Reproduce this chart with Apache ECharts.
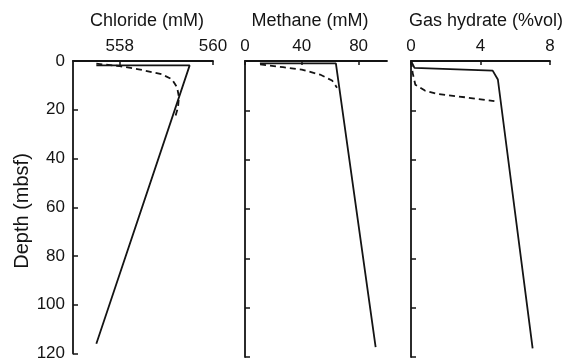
<!DOCTYPE html>
<html>
<head>
<meta charset="utf-8">
<script src="https://cdn.jsdelivr.net/npm/echarts@6/dist/echarts.min.js"></script>
<style>
html,body{margin:0;padding:0;background:#fff;}
#c{width:569px;height:362px;}
</style>
</head>
<body>
<div id="c"></div>
<script>
// ---- data (depth in mbsf) ----
const depthTicks = [0, 20, 40, 60, 80, 100, 120];
const chlorideTicks = [558, 560];
const methaneTicks = [0, 40, 80];
const hydrateTicks = [0, 4, 8];

const chlorideSolid = [[557.5, 1.8], [559.5, 1.8], [557.5, 116]];
const chlorideDashed = [[557.5, 1.1], [558.0, 2.1], [558.44, 3.5], [558.91, 5.5], [559.12, 7.5], [559.23, 10.8], [559.27, 14.8], [559.25, 19], [559.19, 23]];
const methaneSolid = [[10.5, 1], [64, 1], [92, 116]];
const methaneDashed = [[10.6, 1.4], [26.8, 2.5], [40, 3.5], [52.8, 5.5], [61.3, 7.9], [64.8, 10.8]];
const hydrateSolid = [[0, 0], [0.2, 2.8], [4.7, 3.9], [5.0, 7.5], [7.0, 116.5]];
const hydrateDashed = [[0, 0], [0.1, 5], [0.25, 9.6], [0.8, 12], [1.5, 13.3], [3.1, 14.7], [4.8, 16.3]];

const titles = ['Chloride (mM)', 'Methane (mM)', 'Gas hydrate (%vol)'];
const yName = 'Depth (mbsf)';

// ---- styling / layout ----
const FONT = '"Liberation Sans", Arial, Helvetica, sans-serif';
const INK = '#141414';
const grids = [
  {left: 73, top: 61, width: 140, height: 296},
  {left: 245, top: 61, width: 142, height: 296},
  {left: 411, top: 61, width: 139, height: 296}
];
const xRanges = [[557, 560, 1], [0, 100, 20], [0, 8, 4]];
const xTickSets = [chlorideTicks, methaneTicks, hydrateTicks];
const titleX = [147, 310, 486];

const xAxes = grids.map((g, i) => ({
  type: 'value', gridIndex: i, position: 'top',
  min: xRanges[i][0], max: xRanges[i][1], interval: xRanges[i][2],
  axisLine: {show: true, lineStyle: {color: INK, width: 1.8}},
  axisTick: {show: true, inside: true, length: 4, lineStyle: {color: INK, width: 1.5}, customValues: xTickSets[i]},
  axisLabel: {show: true, margin: 6, fontSize: 17, color: INK, fontFamily: FONT, customValues: xTickSets[i],
              showMinLabel: true, showMaxLabel: true},
  splitLine: {show: false}
}));
const yAxes = grids.map((g, i) => ({
  type: 'value', gridIndex: i, inverse: true,
  min: 0, max: 120, interval: 20,
  axisLine: {show: true, onZero: false, lineStyle: {color: INK, width: 1.8}},
  axisTick: {show: true, inside: true, length: 5, lineStyle: {color: INK, width: 1.5}},
  axisLabel: {show: i === 0, margin: 8, fontSize: 17, color: INK, fontFamily: FONT},
  splitLine: {show: false}
}));

function line(data, idx, dashed) {
  return {
    type: 'line', xAxisIndex: idx, yAxisIndex: idx, data: data,
    symbol: 'none', silent: true, animation: false,
    lineStyle: {color: INK, width: 1.8, type: dashed ? [6, 4] : 'solid'}
  };
}

const graphics = titles.map((t, i) => ({
  type: 'text', x: titleX[i], y: 21,
  style: {text: t, fill: INK, font: '18px ' + FONT, textAlign: 'center', textVerticalAlign: 'middle'}
}));
graphics.push({
  type: 'text', x: 22, y: 211, rotation: Math.PI / 2,
  style: {text: yName, fill: INK, font: '20px ' + FONT, textAlign: 'center', textVerticalAlign: 'middle'}
});

const chart = echarts.init(document.getElementById('c'), null, {renderer: 'canvas'});
chart.setOption({
  backgroundColor: '#fff',
  animation: false,
  grid: grids,
  xAxis: xAxes,
  yAxis: yAxes,
  graphic: graphics,
  series: [
    line(chlorideSolid, 0, false), line(chlorideDashed, 0, true),
    line(methaneSolid, 1, false), line(methaneDashed, 1, true),
    line(hydrateSolid, 2, false), line(hydrateDashed, 2, true)
  ]
});
</script>
</body>
</html>
